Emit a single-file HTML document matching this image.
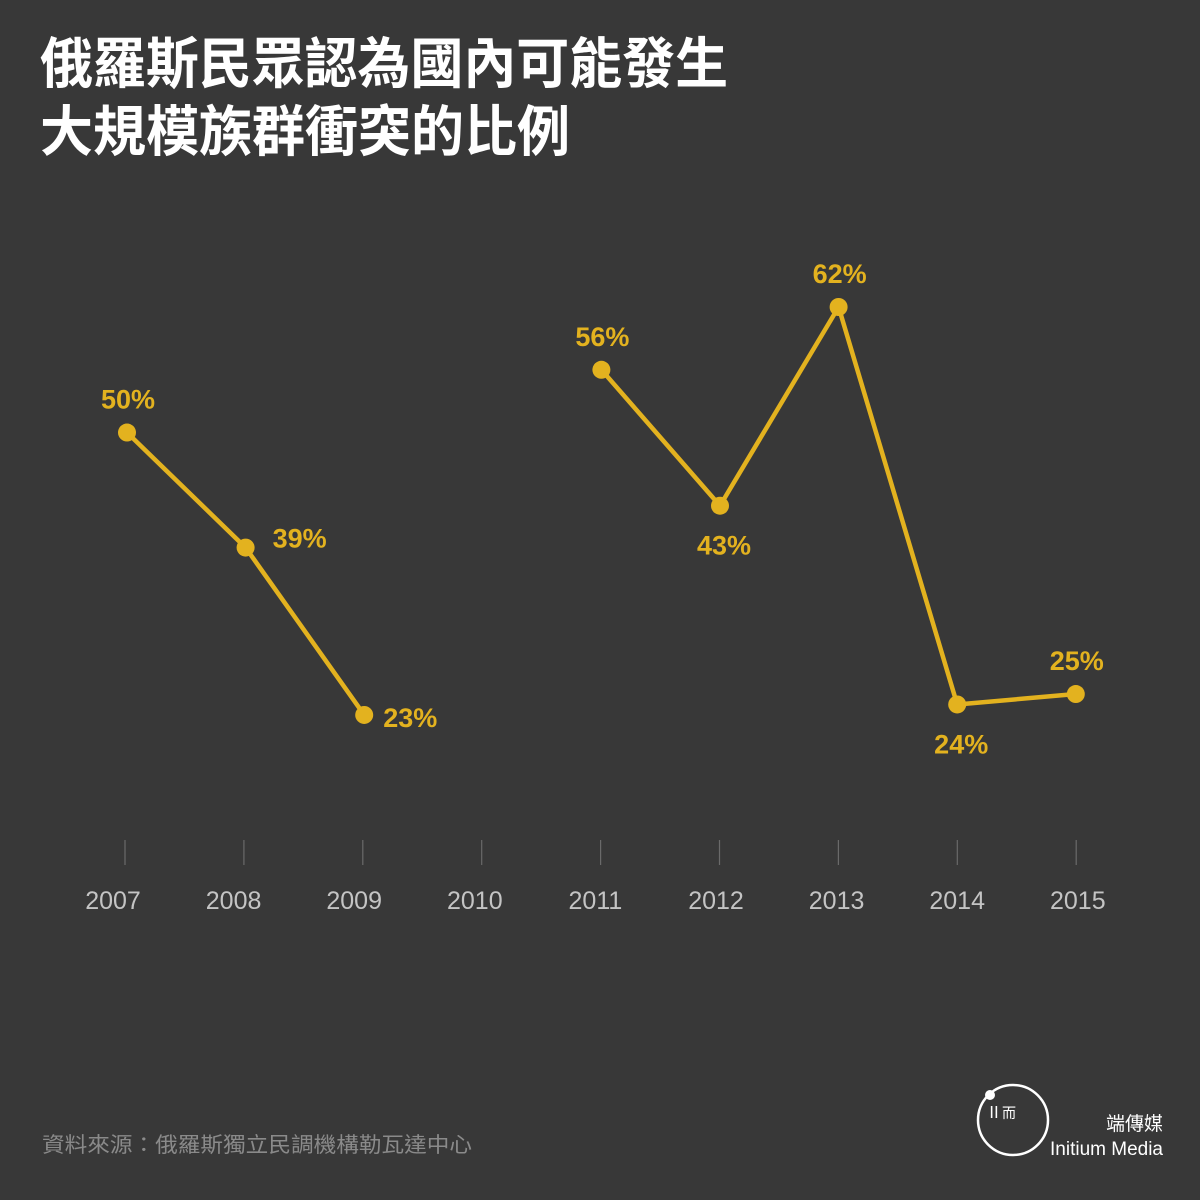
<!DOCTYPE html>
<html><head><meta charset="utf-8"><style>
body{margin:0;background:#383838;}
svg{display:block}
</style></head><body>
<svg id="chart" width="1200" height="1200" xmlns="http://www.w3.org/2000/svg">
<rect width="1200" height="1200" fill="#383838"/>
<g font-family="'Liberation Sans','Noto Sans CJK TC',sans-serif" font-weight="bold" fill="#fff" font-size="55">
<text x="40" y="83" textLength="688" lengthAdjust="spacingAndGlyphs">俄羅斯民眾認為國內可能發生</text>
<text x="40" y="151" textLength="530" lengthAdjust="spacingAndGlyphs">大規模族群衝突的比例</text>
</g>
<g id="axis"></g>
<g id="series"></g>
<text x="42" y="1152" font-family="'Liberation Sans','Noto Sans CJK TC',sans-serif" font-size="21" fill="#8a8a8a" textLength="430" lengthAdjust="spacingAndGlyphs">資料來源：俄羅斯獨立民調機構勒瓦達中心</text>
<g>
<circle cx="1013" cy="1120" r="35" fill="none" stroke="#fff" stroke-width="2.5"/>
<circle cx="990" cy="1095" r="5" fill="#fff"/>
<text x="986" y="1118" font-family="'Noto Sans CJK TC',sans-serif" font-size="16" fill="#fff">Ⅱ</text>
<text x="1002" y="1118" font-family="'Noto Sans CJK TC',sans-serif" font-size="14" fill="#fff">而</text>
<text x="1163" y="1130" text-anchor="end" font-family="'Liberation Sans','Noto Sans CJK TC',sans-serif" font-size="19" fill="#fff">端傳媒</text>
<text x="1163" y="1155" text-anchor="end" font-family="'Liberation Sans',sans-serif" font-size="19" fill="#fff">Initium Media</text>
</g>
</svg>
<script>
const years=["2007","2008","2009","2010","2011","2012","2013","2014","2015"];
const values=[50,39,23,null,56,43,62,24,25];
const labelPos=["above","right","right",null,"above","below","above","below","above"];
const NS="http://www.w3.org/2000/svg";
const xS=i=>127+i*118.6;
const tickX=i=>125+i*118.9;
const labX=i=>113+i*120.6;
const yS=v=>307+(62-v)*10.46;
const axis=document.getElementById('axis'),ser=document.getElementById('series');
function mk(t,a,p){const e=document.createElementNS(NS,t);for(const k in a)e.setAttribute(k,a[k]);p.appendChild(e);return e;}
years.forEach((y,i)=>{
  const t=mk('line',{x1:tickX(i),x2:tickX(i),y1:840,y2:865,stroke:'#6a6a6a','stroke-width':1.2},axis);
  
  
  const l=mk('text',{x:labX(i),y:909,'text-anchor':'middle','font-family':"'Liberation Sans',sans-serif",'font-size':25,fill:'#c4c4c4'},axis);
  l.textContent=y;
  
  
});
let seg=[];
const segs=[];
values.forEach((v,i)=>{if(v==null){if(seg.length)segs.push(seg);seg=[];}else seg.push(i);});
if(seg.length)segs.push(seg);
segs.forEach((s,k)=>{
  const p=mk('polyline',{points:s.map(i=>xS(i)+','+yS(values[i])).join(' '),fill:'none',stroke:'#e3b21f','stroke-width':4.5,'stroke-linejoin':'round'},ser);
  
  
});
values.forEach((v,i)=>{
  if(v==null)return;
  const x=xS(i),y=yS(v);
  const c=mk('circle',{cx:x,cy:y,r:9,fill:'#e3b21f'},ser);
  
  
  let tx=x+1,ty=y-24,anc='middle';
  if(labelPos[i]==='right'){tx=x+19+(i===1?8:0);ty=y+12;anc='start';if(i===1)ty=y;}
  if(labelPos[i]==='below'){tx=x+4;ty=y+49;}
  const t=mk('text',{x:tx,y:ty,'text-anchor':anc,'font-family':"'Liberation Sans',sans-serif",'font-weight':'bold','font-size':27,fill:'#e3b21f'},ser);
  t.textContent=v+'%';
  
  
});
</script>
</body></html>
